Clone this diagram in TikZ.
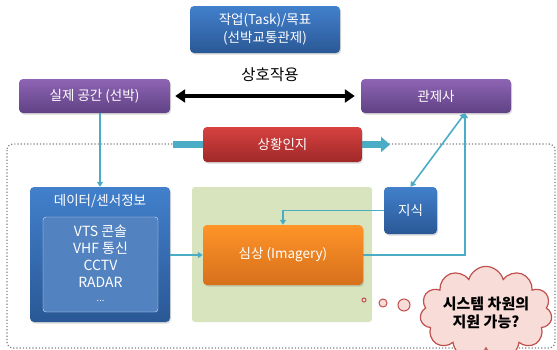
\documentclass[tikz,border=0pt]{standalone}
\usepackage{fontspec}
\setmainfont{Noto Sans CJK KR}
\usetikzlibrary{arrows.meta, shapes.symbols, shadows}

\definecolor{bluetop}{RGB}{66,128,204}
\definecolor{bluebot}{RGB}{42,88,150}
\definecolor{purtop}{RGB}{142,100,180}
\definecolor{purbot}{RGB}{96,66,132}
\definecolor{redtop}{RGB}{214,66,64}
\definecolor{redbot}{RGB}{160,40,40}
\definecolor{orgtop}{RGB}{255,148,40}
\definecolor{orgbot}{RGB}{214,112,28}
\definecolor{innerblue}{RGB}{82,130,192}
\definecolor{linkteal}{RGB}{75,172,198}
\definecolor{mintgreen}{RGB}{215,228,189}
\definecolor{cloudfill}{RGB}{248,220,216}
\definecolor{cloudline}{RGB}{192,80,77}

\tikzset{
  box/.style={rounded corners=4pt, text=white, align=center, inner sep=0pt,
    font=\fontsize{13.5}{18}\selectfont,
    drop shadow={opacity=0.3, shadow xshift=1pt, shadow yshift=-1.5pt}},
  bluebox/.style={box, top color=bluetop, bottom color=bluebot},
  purplebox/.style={box, top color=purtop, bottom color=purbot},
  redbox/.style={box, top color=redtop, bottom color=redbot},
  orangebox/.style={box, top color=orgtop, bottom color=orgbot},
  link/.style={draw=linkteal, line width=1.6pt, -{Triangle[width=6pt,length=5pt]}},
  bubble/.style={circle, draw=cloudline, fill=cloudfill, line width=1pt, inner sep=0pt}
}

\begin{document}
\begin{tikzpicture}[x=1pt, y=-1pt]
    \useasboundingbox (0,0) rectangle (557,349);
    % Moldura e regiao do modelo mental
    \draw[gray, dotted, line width=1.2pt, rounded corners=6pt] (7,144) rectangle (555,348);
    \fill[mintgreen, rounded corners=3pt] (192,187) rectangle (372,322);
    % Barra do reconhecimento de situacao
    \coordinate (barstart) at (173,144.5);
    \coordinate (barend) at (390,144.5);
    \draw[linkteal, line width=7pt, -{Triangle[width=15pt,length=9pt]}] (barstart) -- (barend);
    % Caixas
    \node[bluebox, minimum width=150pt, minimum height=47pt] (task) at (265,29.5)
        {작업(Task)/목표\\(선박교통관제)};
    \node[purplebox, minimum width=151pt, minimum height=34pt] (silje) at (94.5,96) {실제 공간 (선박)};
    \node[purplebox, minimum width=150pt, minimum height=34pt] (gwan) at (436,96) {관제사};
    \node[font=\fontsize{15.5}{18}\selectfont] (inter) at (270,75) {상호작용};
    \node[redbox, minimum width=159pt, minimum height=35pt] (sanghwang) at (282.5,144.5) {상황인지};
    \node[bluebox, minimum width=140pt, minimum height=135pt] (data) at (100,254.5) {};
    \node[text=white, font=\fontsize{13.5}{16}\selectfont] (datatitle) at (100,201) {데이터/센서정보};
    \node[draw=white!80!innerblue, fill=innerblue, rounded corners=3pt, text=white, align=center,
          minimum width=115pt, minimum height=95pt, font=\fontsize{14}{17}\selectfont] (sensors) at (100.5,264.5)
        {VTS 콘솔\\VHF 통신\\CCTV\\RADAR\\\raisebox{3pt}{\fontsize{9}{9}\selectfont ...}};
    \node[orangebox, minimum width=160pt, minimum height=60pt] (img) at (283,255) {심상 (Imagery)};
    \node[bluebox, minimum width=53pt, minimum height=47pt] (jisik) at (410.5,210.5) {지식};
    % Interacao
    \draw[line width=4pt, {Triangle[width=13pt,length=10pt]}-{Triangle[width=13pt,length=10pt]}]
        ([xshift=5pt]silje.east) -- ([xshift=-6pt]gwan.west);
    % Conexoes
    \coordinate (gwanin) at ([xshift=29pt]gwan.south);
    \draw[link] (silje.south -| data.north) -- (data.north);
    \draw[link] (data.east |- img.west) -- (img.west);
    \draw[link] (jisik.west) -| (img.north);
    \draw[link] (img.east) -| (gwanin);
    \draw[link, {Triangle[width=6pt,length=5pt]}-{Triangle[width=6pt,length=5pt]}] (gwanin) -- (jisik.north);
    % Pensamento
    \node[bubble, minimum size=4pt] (b1) at (364,300) {};
    \node[bubble, minimum size=8pt] (b2) at (383,303) {};
    \node[bubble, minimum size=12pt] (b3) at (404,305) {};
    \node[cloud, cloud puffs=11, aspect=1.75, draw=cloudline, fill=cloudfill, line width=1.2pt,
          minimum width=128pt, minimum height=72pt, align=center, inner sep=0pt,
          font=\bfseries\fontsize{15}{18}\selectfont] (cloud) at (486,313)
        {시스템 차원의\\지원 가능?};
\end{tikzpicture}
\end{document}
